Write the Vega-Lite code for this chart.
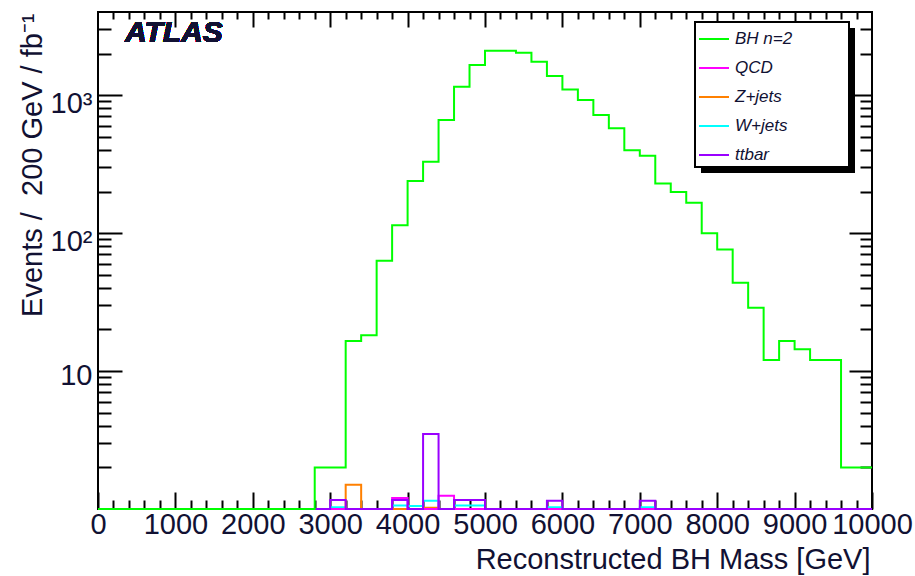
{
  "$schema": "https://vega.github.io/schema/vega-lite/v6.json",
  "width": 774,
  "height": 497,
  "autosize": "none",
  "padding": {"left": 98, "top": 12, "right": 43, "bottom": 67},
  "background": "white",
  "config": {
    "view": {"stroke": "black", "strokeWidth": 2},
    "font": "Liberation Sans",
    "axis": {
      "domain": false,
      "grid": false,
      "tickColor": "black",
      "tickWidth": 2,
      "labelFont": "Liberation Sans",
      "labelFontSize": 29,
      "labelColor": "#111133",
      "labelOverlap": false,
      "labelFlush": false,
      "titleFont": "Liberation Sans",
      "titleFontSize": 29,
      "titleFontWeight": "normal",
      "titleColor": "#111133"
    },
    "legend": {
      "orient": "none",
      "symbolType": "stroke",
      "symbolSize": 900,
      "symbolStrokeWidth": 2,
      "labelFont": "Liberation Sans",
      "labelFontSize": 17,
      "labelFontStyle": "italic",
      "labelColor": "#111133",
      "labelOffset": 5,
      "rowPadding": 5
    }
  },
  "data": {
    "values": [
      {"m": 0, "bh": 0, "qcd": 0, "zj": 0, "wj": 0, "tt": 0},
      {"m": 200, "bh": 0, "qcd": 0, "zj": 0, "wj": 0, "tt": 0},
      {"m": 400, "bh": 0, "qcd": 0, "zj": 0, "wj": 0, "tt": 0},
      {"m": 600, "bh": 0, "qcd": 0, "zj": 0, "wj": 0, "tt": 0},
      {"m": 800, "bh": 0, "qcd": 0, "zj": 0, "wj": 0, "tt": 0},
      {"m": 1000, "bh": 0, "qcd": 0, "zj": 0, "wj": 0, "tt": 0},
      {"m": 1200, "bh": 0, "qcd": 0, "zj": 0, "wj": 0, "tt": 0},
      {"m": 1400, "bh": 0, "qcd": 0, "zj": 0, "wj": 0, "tt": 0},
      {"m": 1600, "bh": 0, "qcd": 0, "zj": 0, "wj": 0, "tt": 0},
      {"m": 1800, "bh": 0, "qcd": 0, "zj": 0, "wj": 0, "tt": 0},
      {"m": 2000, "bh": 0, "qcd": 0, "zj": 0, "wj": 0, "tt": 0},
      {"m": 2200, "bh": 0, "qcd": 0, "zj": 0, "wj": 0, "tt": 0},
      {"m": 2400, "bh": 0, "qcd": 0, "zj": 0, "wj": 0, "tt": 0},
      {"m": 2600, "bh": 0, "qcd": 0, "zj": 0, "wj": 0, "tt": 0},
      {"m": 2800, "bh": 2, "qcd": 0, "zj": 0, "wj": 0, "tt": 0},
      {"m": 3000, "bh": 2, "qcd": 0, "zj": 0, "wj": 1.03, "tt": 1.16},
      {"m": 3200, "bh": 16.5, "qcd": 0, "zj": 1.5, "wj": 0, "tt": 0},
      {"m": 3400, "bh": 18.2, "qcd": 0, "zj": 0, "wj": 0, "tt": 0},
      {"m": 3600, "bh": 63, "qcd": 0, "zj": 0, "wj": 0, "tt": 0},
      {"m": 3800, "bh": 114, "qcd": 1.2, "zj": 0, "wj": 1.06, "tt": 1.16},
      {"m": 4000, "bh": 238, "qcd": 0, "zj": 0, "wj": 1.05, "tt": 0},
      {"m": 4200, "bh": 329, "qcd": 0, "zj": 1.02, "wj": 1.15, "tt": 3.5},
      {"m": 4400, "bh": 659, "qcd": 1.25, "zj": 0, "wj": 0, "tt": 0},
      {"m": 4600, "bh": 1148, "qcd": 0, "zj": 0, "wj": 1.06, "tt": 1.16},
      {"m": 4800, "bh": 1649, "qcd": 0, "zj": 0, "wj": 1.06, "tt": 1.16},
      {"m": 5000, "bh": 2094, "qcd": 0, "zj": 0, "wj": 0, "tt": 0},
      {"m": 5200, "bh": 2094, "qcd": 0, "zj": 0, "wj": 0, "tt": 0},
      {"m": 5400, "bh": 2027, "qcd": 0, "zj": 0, "wj": 0, "tt": 0},
      {"m": 5600, "bh": 1745, "qcd": 0, "zj": 0, "wj": 0, "tt": 0},
      {"m": 5800, "bh": 1373, "qcd": 0, "zj": 0, "wj": 1.03, "tt": 1.15},
      {"m": 6000, "bh": 1099, "qcd": 0, "zj": 0, "wj": 0, "tt": 0},
      {"m": 6200, "bh": 920, "qcd": 0, "zj": 0, "wj": 0, "tt": 0},
      {"m": 6400, "bh": 716, "qcd": 0, "zj": 0, "wj": 0, "tt": 0},
      {"m": 6600, "bh": 574, "qcd": 0, "zj": 0, "wj": 0, "tt": 0},
      {"m": 6800, "bh": 399, "qcd": 0, "zj": 0, "wj": 0, "tt": 0},
      {"m": 7000, "bh": 363, "qcd": 0, "zj": 0, "wj": 1.03, "tt": 1.15},
      {"m": 7200, "bh": 229, "qcd": 0, "zj": 0, "wj": 0, "tt": 0},
      {"m": 7400, "bh": 198, "qcd": 0, "zj": 0, "wj": 0, "tt": 0},
      {"m": 7600, "bh": 166, "qcd": 0, "zj": 0, "wj": 0, "tt": 0},
      {"m": 7800, "bh": 99.5, "qcd": 0, "zj": 0, "wj": 0, "tt": 0},
      {"m": 8000, "bh": 76, "qcd": 0, "zj": 0, "wj": 0, "tt": 0},
      {"m": 8200, "bh": 43.6, "qcd": 0, "zj": 0, "wj": 0, "tt": 0},
      {"m": 8400, "bh": 28.8, "qcd": 0, "zj": 0, "wj": 0, "tt": 0},
      {"m": 8600, "bh": 12, "qcd": 0, "zj": 0, "wj": 0, "tt": 0},
      {"m": 8800, "bh": 16.5, "qcd": 0, "zj": 0, "wj": 0, "tt": 0},
      {"m": 9000, "bh": 14.4, "qcd": 0, "zj": 0, "wj": 0, "tt": 0},
      {"m": 9200, "bh": 12, "qcd": 0, "zj": 0, "wj": 0, "tt": 0},
      {"m": 9400, "bh": 12, "qcd": 0, "zj": 0, "wj": 0, "tt": 0},
      {"m": 9600, "bh": 2, "qcd": 0, "zj": 0, "wj": 0, "tt": 0},
      {"m": 9800, "bh": 2, "qcd": 0, "zj": 0, "wj": 0, "tt": 0},
      {"m": 10000, "bh": 2, "qcd": 0, "zj": 0, "wj": 0, "tt": 0}
    ]
  },
  "layer": [
    {
      "mark": {"type": "point", "opacity": 0},
      "encoding": {
        "x": {"field": "m", "type": "quantitative", "scale": {"domain": [0, 10000], "nice": false, "zero": false}, "axis": null},
        "y": {"field": "bh", "type": "quantitative", "scale": {"type": "log", "domain": [1, 4000], "nice": false, "clamp": true}, "axis": null},
        "fill": {
          "datum": 1,
          "type": "quantitative",
          "scale": {"domain": [0, 1], "range": ["black", "black"]},
          "legend": {
            "title": null,
            "direction": "vertical",
            "legendX": 603,
            "legendY": 16,
            "padding": 0,
            "labelExpr": "''",
            "labelOffset": 0,
            "gradientLength": 145,
            "gradientThickness": 154,
            "gradientStrokeWidth": 0,
            "zindex": 1
          }
        },
        "stroke": {
          "datum": 2,
          "type": "quantitative",
          "scale": {"domain": [0, 2], "range": ["white", "white"]},
          "legend": {
            "title": null,
            "direction": "vertical",
            "legendX": 597,
            "legendY": 10,
            "padding": 0,
            "labelExpr": "''",
            "labelOffset": 0,
            "gradientLength": 145,
            "gradientThickness": 154,
            "gradientStrokeColor": "black",
            "gradientStrokeWidth": 2,
            "zindex": 2
          }
        }
      }
    },
    {
      "mark": {
        "type": "text",
        "text": "ATLAS",
        "align": "left",
        "baseline": "alphabetic",
        "font": "Liberation Sans",
        "fontSize": 30,
        "fontStyle": "italic",
        "fontWeight": "bold",
        "color": "#111133"
      },
      "encoding": {
        "x": {"datum": 349, "type": "quantitative", "scale": {"domain": [0, 10000], "nice": false, "zero": false}, "axis": null},
        "y": {"datum": 2420, "type": "quantitative", "scale": {"type": "log", "domain": [1, 4000], "nice": false, "clamp": true}, "axis": null}
      }
    },
    {
      "mark": {"type": "line", "interpolate": "step-after", "strokeWidth": 2},
      "encoding": {
        "x": {
          "field": "m", "type": "quantitative",
          "scale": {"domain": [0, 10000], "nice": false, "zero": false},
          "axis": {
            "orient": "bottom",
            "values": [0, 1000, 2000, 3000, 4000, 5000, 6000, 7000, 8000, 9000, 10000],
            "format": "d",
            "tickSize": -17,
            "labelPadding": 18,
            "labelBaseline": "top",
            "title": "Reconstructed BH Mass [GeV]",
            "titleAlign": "right",
            "titleAnchor": "end",
            "titleBaseline": "alphabetic",
            "titleX": 772,
            "titleY": 59
          }
        },
        "y": {
          "field": "wj", "type": "quantitative",
          "scale": {"type": "log", "domain": [1, 4000], "nice": false, "clamp": true},
          "axis": {
            "orient": "left",
            "values": [10, 100, 1000],
            "labelExpr": "datum.value == 10 ? '10' : datum.value == 100 ? '10²' : '10³'",
            "tickSize": -24,
            "labelPadding": 30,
            "labelBaseline": "middle",
            "labelAlign": "right",
            "labelOffset": {"condition": {"test": "datum.value == 10", "value": 4}, "value": 8},
            "title": "Events / \u00a0200 GeV / fb⁻¹",
            "titleAngle": -90,
            "titleAlign": "right",
            "titleAnchor": "end",
            "titleBaseline": "alphabetic",
            "titleX": -57,
            "titleY": 1
          }
        },
        "color": {
          "datum": "W+jets",
          "scale": {
            "domain": ["BH n=2", "QCD", "Z+jets", "W+jets", "ttbar"],
            "range": ["#00ff00", "#ff00ff", "#ff8000", "#00ffff", "#9a00ff"]
          },
          "legend": {
            "title": null,
            "legendX": 595,
            "legendY": 6,
            "padding": 5,
            "zindex": 3
          }
        }
      }
    },
    {
      "mark": {"type": "line", "interpolate": "step-after", "strokeWidth": 2},
      "encoding": {
        "x": {
          "field": "m", "type": "quantitative",
          "scale": {"domain": [0, 10000], "nice": false, "zero": false},
          "axis": {
            "orient": "bottom",
            "values": [200, 400, 600, 800, 1200, 1400, 1600, 1800, 2200, 2400, 2600, 2800, 3200, 3400, 3600, 3800, 4200, 4400, 4600, 4800, 5200, 5400, 5600, 5800, 6200, 6400, 6600, 6800, 7200, 7400, 7600, 7800, 8200, 8400, 8600, 8800, 9200, 9400, 9600, 9800],
            "tickSize": -9,
            "labels": false,
            "title": null
          }
        },
        "y": {
          "field": "zj", "type": "quantitative",
          "scale": {"type": "log", "domain": [1, 4000], "nice": false, "clamp": true},
          "axis": {
            "orient": "left",
            "values": [2, 3, 4, 5, 6, 7, 8, 9, 20, 30, 40, 50, 60, 70, 80, 90, 200, 300, 400, 500, 600, 700, 800, 900, 2000, 3000],
            "tickSize": -13,
            "labels": false,
            "title": null
          }
        },
        "color": {"datum": "Z+jets"}
      }
    },
    {
      "mark": {"type": "line", "interpolate": "step-after", "strokeWidth": 2},
      "encoding": {
        "x": {
          "field": "m", "type": "quantitative",
          "scale": {"domain": [0, 10000], "nice": false, "zero": false},
          "axis": {
            "orient": "top",
            "values": [1000, 2000, 3000, 4000, 5000, 6000, 7000, 8000, 9000],
            "tickSize": -15,
            "labels": false,
            "title": null
          }
        },
        "y": {
          "field": "qcd", "type": "quantitative",
          "scale": {"type": "log", "domain": [1, 4000], "nice": false, "clamp": true},
          "axis": {
            "orient": "right",
            "values": [10, 100, 1000],
            "tickSize": -23,
            "labels": false,
            "title": null
          }
        },
        "color": {"datum": "QCD"}
      }
    },
    {
      "mark": {"type": "line", "interpolate": "step-after", "strokeWidth": 2},
      "encoding": {
        "x": {
          "field": "m", "type": "quantitative",
          "scale": {"domain": [0, 10000], "nice": false, "zero": false},
          "axis": {
            "orient": "top",
            "values": [200, 400, 600, 800, 1200, 1400, 1600, 1800, 2200, 2400, 2600, 2800, 3200, 3400, 3600, 3800, 4200, 4400, 4600, 4800, 5200, 5400, 5600, 5800, 6200, 6400, 6600, 6800, 7200, 7400, 7600, 7800, 8200, 8400, 8600, 8800, 9200, 9400, 9600, 9800],
            "tickSize": -7,
            "labels": false,
            "title": null
          }
        },
        "y": {
          "field": "tt", "type": "quantitative",
          "scale": {"type": "log", "domain": [1, 4000], "nice": false, "clamp": true},
          "axis": {
            "orient": "right",
            "values": [2, 3, 4, 5, 6, 7, 8, 9, 20, 30, 40, 50, 60, 70, 80, 90, 200, 300, 400, 500, 600, 700, 800, 900, 2000, 3000],
            "tickSize": -12,
            "labels": false,
            "title": null
          }
        },
        "color": {"datum": "ttbar"}
      }
    },
    {
      "mark": {"type": "line", "interpolate": "step-after", "strokeWidth": 2},
      "encoding": {
        "x": {
          "field": "m", "type": "quantitative",
          "scale": {"domain": [0, 10000], "nice": false, "zero": false},
          "axis": null
        },
        "y": {
          "field": "bh", "type": "quantitative",
          "scale": {"type": "log", "domain": [1, 4000], "nice": false, "clamp": true},
          "axis": null
        },
        "color": {"datum": "BH n=2"}
      }
    }
  ],
  "resolve": {"scale": {"x": "independent", "y": "independent"}}
}
